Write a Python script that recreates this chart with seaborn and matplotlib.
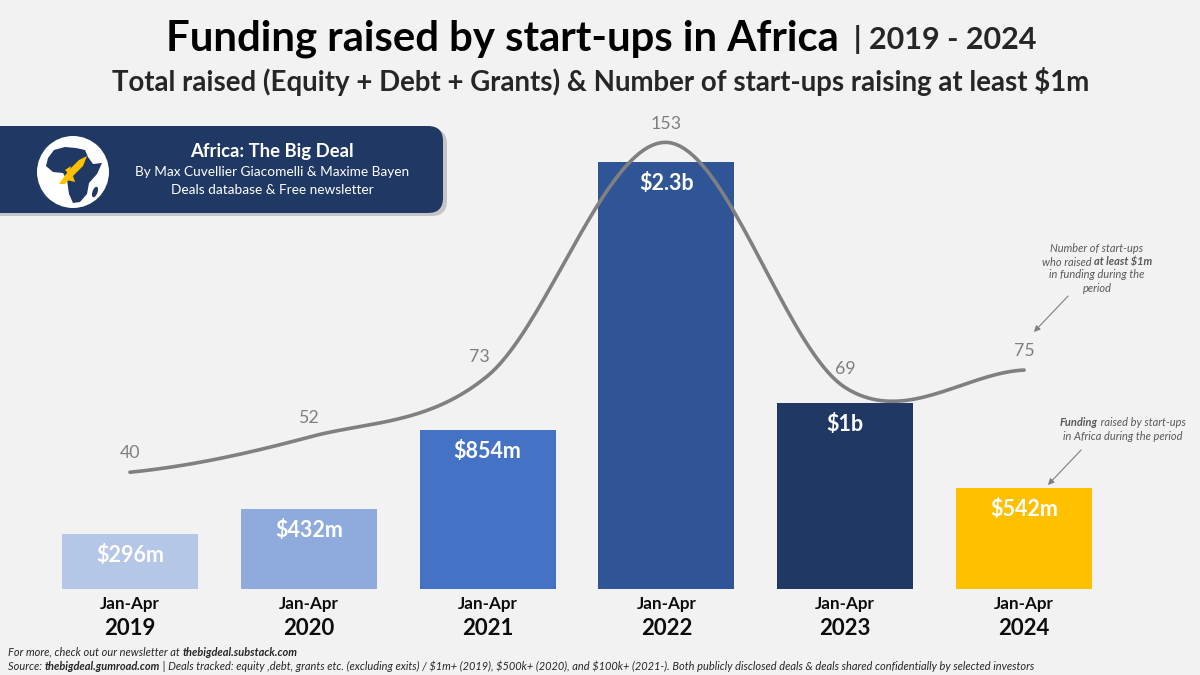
import numpy as np
import pandas as pd
import matplotlib.pyplot as plt
import seaborn as sns
from matplotlib.patches import FancyBboxPatch, Circle, Polygon, Ellipse

# data
periods = ["2019", "2020", "2021", "2022", "2023", "2024"]
funding_musd = [296, 432, 854, 2300, 1000, 542]
funding_labels = ["$296m", "$432m", "$854m", "$2.3b", "$1b", "$542m"]
startups_1m = [40, 52, 73, 153, 69, 75]
bar_colors = ["#b4c7e7", "#8faadc", "#4472c4", "#2f5597", "#203864", "#ffc000"]

BG = "#f2f2f2"
GREY = "#7f7f7f"


def smooth_curve(y, n=40):
    # catmull-rom through the points, close to excel's "smoothed line"
    y = np.asarray(y, dtype=float)
    p = np.concatenate([[y[0]], y, [y[-1]]])
    xs, ys = [], []
    for i in range(len(y) - 1):
        p0, p1, p2, p3 = p[i], p[i + 1], p[i + 2], p[i + 3]
        m1 = (p2 - p0) / 2
        m2 = (p3 - p1) / 2
        t = np.linspace(0, 1, n, endpoint=(i == len(y) - 2))
        h00 = 2 * t**3 - 3 * t**2 + 1
        h10 = t**3 - 2 * t**2 + t
        h01 = -2 * t**3 + 3 * t**2
        h11 = t**3 - t**2
        xs.append(i + t)
        ys.append(h00 * p1 + h10 * m1 + h01 * p2 + h11 * m2)
    return np.concatenate(xs), np.concatenate(ys)


def rich(ax, x, y, parts, ha="center", size=10, color="black", **kw):
    # draw text pieces with mixed weights/styles on one line
    r = ax.figure.canvas.get_renderer()
    items = []
    for txt, style in parts:
        t = ax.text(0, y, txt, va="center", ha="left", fontsize=style.get("size", size),
                    color=style.get("color", color), fontweight=style.get("weight", "normal"),
                    fontstyle=style.get("style", "normal"), **kw)
        items.append(t)
    widths = [t.get_window_extent(renderer=r).width for t in items]
    total = sum(widths)
    start = x - total / 2 if ha == "center" else x
    for t, w in zip(items, widths):
        t.set_x(start)
        start += w


def main():
    sns.set_theme(style="white")
    plt.rcParams["font.family"] = ["Lato", "DejaVu Sans"]

    fig = plt.figure(figsize=(12, 6.75), dpi=100, facecolor=BG)
    ax = fig.add_axes([40.5 / 1200, 86 / 675, 1073 / 1200, 489 / 675])
    ax.set_facecolor(BG)

    df = pd.DataFrame({"period": periods, "funding": funding_musd})
    sns.barplot(data=df, x="period", y="funding", hue="period", palette=bar_colors,
                width=0.76, legend=False, ax=ax, saturation=1, linewidth=0)
    ax.set_ylim(0, 2634)
    ax.set_xlim(-0.5, 5.5)
    ax.set_xlabel("")
    ax.set_ylabel("")
    ax.set_xticks([])
    ax.set_yticks([])
    for s in ax.spines.values():
        s.set_visible(False)

    for i, (v, lab) in enumerate(zip(funding_musd, funding_labels)):
        ax.annotate(lab, xy=(i, v), xytext=(0, -15.5), textcoords="offset points",
                    ha="center", va="center", color="white", fontsize=15.5, fontweight="bold")
        ax.annotate("Jan-Apr", xy=(i, 0), xytext=(0, -11), textcoords="offset points",
                    ha="center", va="center", color="#0d0d0d", fontsize=12.3, fontweight="bold")
        ax.annotate(periods[i], xy=(i, 0), xytext=(0, -28.5), textcoords="offset points",
                    ha="center", va="center", color="#0d0d0d", fontsize=16, fontweight="bold")

    # number of start-ups line
    ax2 = ax.twinx()
    ax2.set_ylim(0, 167.5)
    sx, sy = smooth_curve(startups_1m)
    sns.lineplot(x=sx, y=sy, ax=ax2, color="#808080", linewidth=2.6, sort=False)
    ax2.set_yticks([])
    for s in ax2.spines.values():
        s.set_visible(False)
    for i, v in enumerate(startups_1m):
        dx = -6 if i == 2 else 0
        ax2.annotate(str(v), xy=(i, v), xytext=(dx, 13.5), textcoords="offset points",
                     ha="center", va="center", color=GREY, fontsize=12.8)

    # overlay in pixel coordinates for titles, logo box and notes
    ov = fig.add_axes([0, 0, 1, 1], facecolor="none")
    ov.set_xlim(0, 1200)
    ov.set_ylim(675, 0)
    ov.axis("off")

    rich(ov, 601, 39, [("Funding raised by start-ups in Africa", {"size": 30.2, "weight": "bold"}),
                       ("  | 2019 - 2024", {"size": 22, "weight": "bold", "color": "#262626"})])
    ov.text(601, 81, "Total raised (Equity + Debt + Grants) & Number of start-ups raising at least $1m",
            ha="center", va="center", fontsize=19.9, fontweight="bold", color="#262626")

    # logo box
    ov.add_patch(FancyBboxPatch((-20, 129), 467, 87, boxstyle="round,pad=0,rounding_size=15",
                                fc="#9a9a9a", ec="none", alpha=0.5))
    ov.add_patch(FancyBboxPatch((-20, 126), 463, 87, boxstyle="round,pad=0,rounding_size=15",
                                fc="#203864", ec="none"))
    cx, cy = 73, 172
    ov.add_patch(Circle((cx, cy), 36, fc="white", ec="none"))
    africa = np.array([(-25, -14), (-19, -22), (-8, -25), (3, -24), (12, -22), (15, -15),
                       (20, -8), (29, -9), (24, 2), (16, 11), (14, 22), (7, 30), (0, 31),
                       (-4, 22), (-6, 8), (-10, 1), (-20, 0), (-27, -6)])
    ov.add_patch(Polygon(africa + [cx, cy], closed=True, fc="#203864", ec="none"))
    ov.add_patch(Ellipse((cx + 22, cy + 20), 5, 11, angle=20, fc="#203864", ec="none"))
    rocket = np.array([(-14, 12), (-4, -2), (6, -12), (14, -16), (10, -6), (0, 4), (-8, 12)])
    ov.add_patch(Polygon(rocket + [cx, cy], closed=True, fc="#ffc000", ec="none"))
    fin1 = np.array([(-8, -2), (-2, -6), (-4, 2)])
    fin2 = np.array([(0, 4), (2, 10), (-6, 8)])
    ov.add_patch(Polygon(fin1 + [cx, cy], closed=True, fc="#ffc000", ec="none"))
    ov.add_patch(Polygon(fin2 + [cx, cy], closed=True, fc="#ffc000", ec="none"))
    ov.text(272, 152, "Africa: The Big Deal", ha="center", va="center", color="white",
            fontsize=13.3, fontweight="bold")
    ov.text(272, 172, "By Max Cuvellier Giacomelli & Maxime Bayen", ha="center", va="center",
            color="white", fontsize=9.8)
    ov.text(272, 190, "Deals database & Free newsletter", ha="center", va="center",
            color="white", fontsize=9.8)

    # notes
    note = {"style": "italic", "color": "#595959"}
    noteb = {"style": "italic", "weight": "bold", "color": "#595959"}
    ov.text(1097, 248, "Number of start-ups", ha="center", va="center", fontsize=7.9,
            fontstyle="italic", color="#595959")
    rich(ov, 1097, 262, [("who raised ", note), ("at least $1m", noteb)], size=7.9)
    ov.text(1097, 275, "in funding during the", ha="center", va="center", fontsize=7.9,
            fontstyle="italic", color="#595959")
    ov.text(1097, 289, "period", ha="center", va="center", fontsize=7.9,
            fontstyle="italic", color="#595959")
    ov.annotate("", xy=(1032, 334), xytext=(1070, 294),
                arrowprops=dict(arrowstyle="-|>", color=GREY, lw=0.8, mutation_scale=9))
    rich(ov, 1123, 423, [("Funding", noteb), (" raised by start-ups", note)], size=7.9)
    ov.text(1123, 436, "in Africa during the period", ha="center", va="center", fontsize=7.9,
            fontstyle="italic", color="#595959")
    ov.annotate("", xy=(1046, 487), xytext=(1083, 448),
                arrowprops=dict(arrowstyle="-|>", color=GREY, lw=0.8, mutation_scale=9))

    # footer
    foot = {"style": "italic", "color": "#262626"}
    footb = {"style": "italic", "weight": "bold", "color": "#262626"}
    rich(ov, 8, 652, [("For more, check out our newsletter at ", foot),
                      ("thebigdeal.substack.com", footb)], ha="left", size=7.9)
    rich(ov, 8, 666, [("Source: ", foot), ("thebigdeal.gumroad.com", footb),
                      (" | Deals tracked: equity ,debt, grants etc. (excluding exits) / $1m+ (2019), "
                       "$500k+ (2020), and $100k+ (2021-). Both publicly disclosed deals & deals "
                       "shared confidentially by selected investors", foot)], ha="left", size=7.9)

    fig.savefig("out.png", dpi=100, facecolor=BG)
    plt.close(fig)


if __name__ == "__main__":
    main()
